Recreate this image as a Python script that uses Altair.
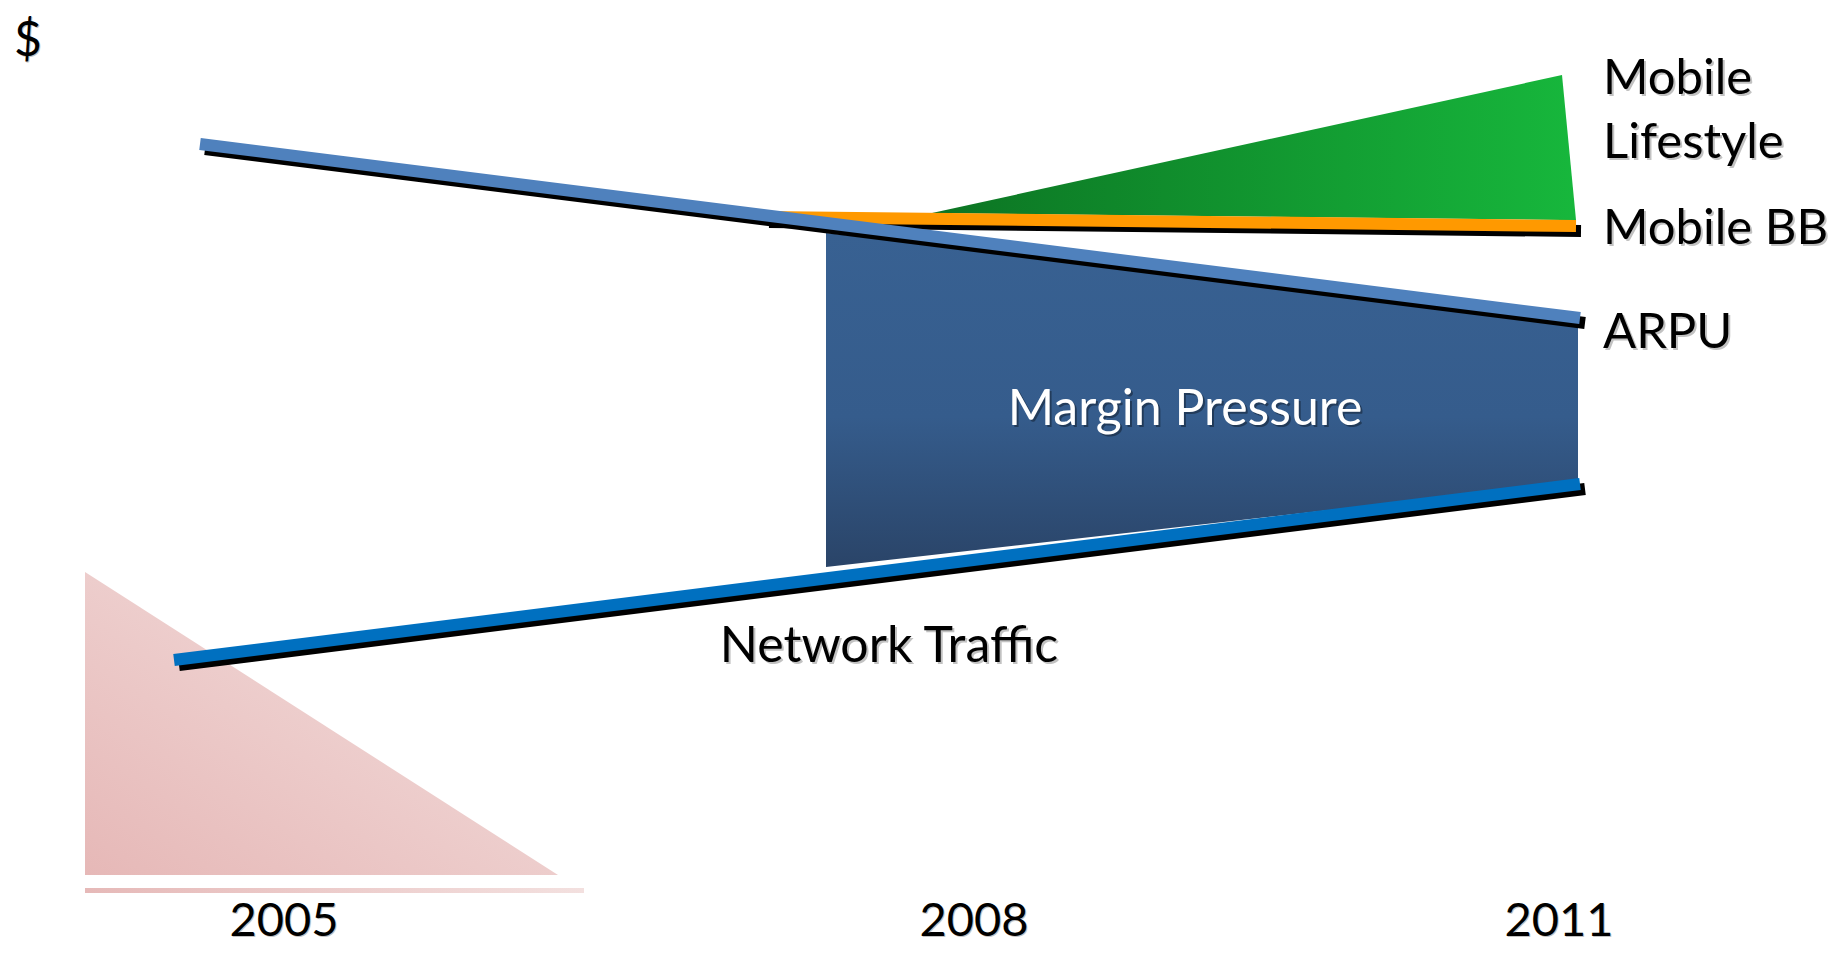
import altair as alt
import pandas as pd

# ---- values (x: time axis units, y: $ axis units) ----
arpu_x = [192, 1572]
arpu_y = [803, 629]

mobile_bb_x = [756, 1568]
mobile_bb_y = [730, 721]

lifestyle_x = [924, 1554, 1568]
lifestyle_top = [734, 872, 727]
lifestyle_base = [734, 727, 727]

margin_x = [818, 1570]
margin_top = [714, 632]
margin_bottom = [380, 465]

traffic_x = [166, 1572]
traffic_y = [287, 463]

legacy_x = [77, 550]
legacy_top = [375, 72]
legacy_base = [72, 72]

legacy_bar_x = [77, 576]
legacy_bar_y = [59, 54]

years = ["2005", "2008", "2011"]
year_x = [276, 966, 1551]
year_y = [11, 11, 11]

series_labels = ["Mobile", "Lifestyle", "Mobile BB", "ARPU"]
series_label_x = [1595, 1595, 1595, 1595]
series_label_y = [853, 789, 703, 599]

center_labels = ["Margin Pressure", "Network Traffic"]
center_label_x = [1177, 881]
center_label_y = [522, 285]

axis_label = ["$"]
axis_label_x = [6]
axis_label_y = [891]

FONT = "Lato"

xs = alt.Scale(domain=[0, 1826], nice=False, zero=False)
ys = alt.Scale(domain=[0, 939], nice=False, zero=False)


def X():
    return alt.X("x:Q", scale=xs, axis=None)


def Y(field="y"):
    return alt.Y(f"{field}:Q", scale=ys, axis=None)


def grad(stops, x1=0, y1=0, x2=1, y2=0):
    return alt.Gradient(
        gradient="linear",
        stops=[alt.GradientStop(color=c, offset=o) for o, c in stops],
        x1=x1, y1=y1, x2=x2, y2=y2,
    )


# legacy (pink) triangle and bar
legacy_df = pd.DataFrame({"x": legacy_x, "y": legacy_top, "y2": legacy_base})
legacy = alt.Chart(legacy_df).mark_area(
    color=grad([(0, "#E6B8B7"), (1, "#F4E2E1")], x1=0, y1=1, x2=1, y2=0)
).encode(x=X(), y=Y(), y2="y2:Q")

bar_df = pd.DataFrame({"x": [legacy_bar_x[0]], "x2": [legacy_bar_x[1]],
                       "y": [legacy_bar_y[0]], "y2": [legacy_bar_y[1]]})
legacy_bar = alt.Chart(bar_df).mark_rect(
    color=grad([(0, "#E6B9B8"), (1, "#F3E0DF")])
).encode(x=X(), x2="x2:Q", y=Y(), y2="y2:Q")

# margin pressure polygon
margin_df = pd.DataFrame({"x": margin_x, "y": margin_top, "y2": margin_bottom})
margin = alt.Chart(margin_df).mark_area(
    color=grad([(0, "#386192"), (0.55, "#355C8C"), (1, "#2A4468")], x1=0, y1=0, x2=0, y2=1)
).encode(x=X(), y=Y(), y2="y2:Q")

# mobile lifestyle wedge
life_df = pd.DataFrame({"x": lifestyle_x, "y": lifestyle_top, "y2": lifestyle_base})
life = alt.Chart(life_df).mark_area(
    color=grad([(0, "#0C7423"), (1, "#17B73C")])
).encode(x=X(), y=Y(), y2="y2:Q")


def line_with_shadow(xv, yv, color):
    df = pd.DataFrame({"x": xv, "y": yv})
    shadow = alt.Chart(df).mark_line(color="black", strokeWidth=12, xOffset=5, yOffset=5).encode(
        x=X(), y=Y())
    main = alt.Chart(df).mark_line(color=color, strokeWidth=12).encode(x=X(), y=Y())
    return [shadow, main]


bb_lines = line_with_shadow(mobile_bb_x, mobile_bb_y, "#FF9900")
arpu_lines = line_with_shadow(arpu_x, arpu_y, "#4F81BD")
traffic_lines = line_with_shadow(traffic_x, traffic_y, "#0070C0")


def text_layer(labels, xv, yv, align, size, color, shadow_color, shadow_opacity, off=2):
    df = pd.DataFrame({"x": xv, "y": yv, "t": labels})
    sh = alt.Chart(df).mark_text(
        font=FONT, fontSize=size, align=align, baseline="alphabetic",
        color=shadow_color, opacity=shadow_opacity, dx=off, dy=off
    ).encode(x=X(), y=Y(), text="t:N")
    tx = alt.Chart(df).mark_text(
        font=FONT, fontSize=size, align=align, baseline="alphabetic", color=color
    ).encode(x=X(), y=Y(), text="t:N")
    return [sh, tx]


txt_series = text_layer(series_labels, series_label_x, series_label_y, "left", 49, "black", "#9a9a9a", 0.6)
txt_years = text_layer(years, year_x, year_y, "center", 47, "black", "#9a9a9a", 0.6, off=1)
txt_dollar = text_layer(axis_label, axis_label_x, axis_label_y, "left", 48, "black", "#9a9a9a", 0.6, off=1)
txt_traffic = text_layer(center_labels[1:], center_label_x[1:], center_label_y[1:], "center", 50, "black", "#9a9a9a", 0.6)
txt_margin = text_layer(center_labels[:1], center_label_x[:1], center_label_y[:1], "center", 50, "white", "#000000", 0.35)

chart = alt.layer(
    legacy, legacy_bar, margin, life,
    *bb_lines, *arpu_lines, *traffic_lines,
    *txt_series, *txt_years, *txt_dollar, *txt_traffic, *txt_margin,
).properties(
    width=1826, height=939, padding=0,
    autosize=alt.AutoSizeParams(type="none"),
    background="white",
).configure_view(stroke=None)

chart.save("out.html", embed_options={"renderer": "svg", "actions": False})
